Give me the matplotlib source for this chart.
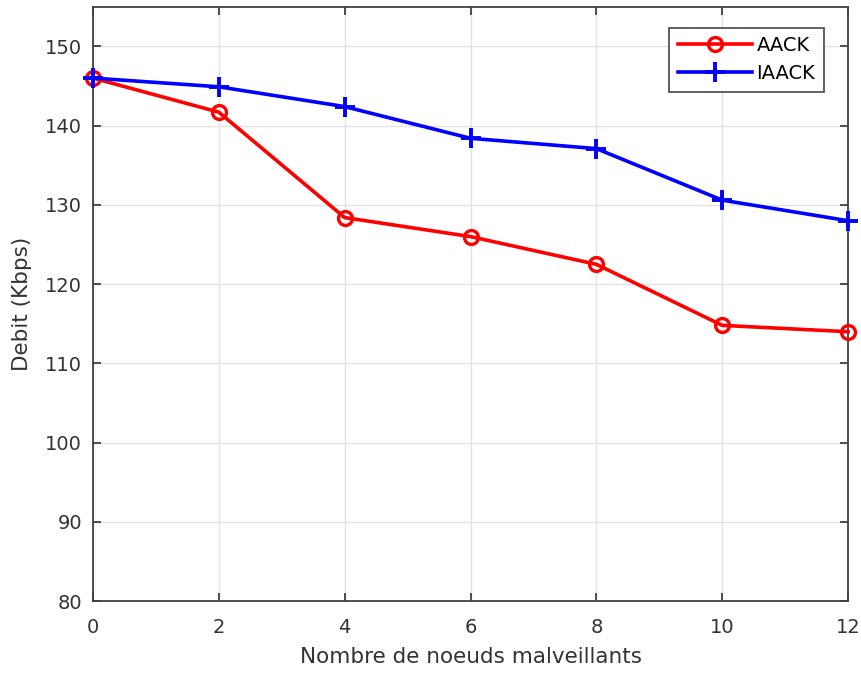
import matplotlib
matplotlib.use("Agg")
import matplotlib.pyplot as plt

plt.rcParams["font.family"] = ["DejaVu Sans"]

nodes = [0, 2, 4, 6, 8, 10, 12]
aack = [146.0, 141.7, 128.4, 126.0, 122.5, 114.8, 114.0]
iaack = [146.0, 144.9, 142.4, 138.4, 137.1, 130.6, 128.0]

x_ticks = [0, 2, 4, 6, 8, 10, 12]
y_ticks = [80, 90, 100, 110, 120, 130, 140, 150]

fig = plt.figure(figsize=(8.61, 6.74), dpi=100)
ax = fig.add_axes([0.108, 0.108, 0.877, 0.882])

ax.plot(nodes, aack, color="red", lw=2.6, marker="o", markersize=10,
        markerfacecolor="none", markeredgewidth=2.4, label="AACK", clip_on=False, zorder=3)
ax.plot(nodes, iaack, color="blue", lw=2.6, marker="+", markersize=15,
        markeredgewidth=2.8, label="IAACK", clip_on=False, zorder=4)

ax.set_xlim(0, 12)
ax.set_ylim(80, 155)
ax.set_xticks(x_ticks)
ax.set_yticks(y_ticks)
ax.grid(True, color="#e3e3e3", lw=1)
ax.set_axisbelow(True)

axis_col = "#404040"
for s in ax.spines.values():
    s.set_color(axis_col)
    s.set_linewidth(1.3)
ax.tick_params(direction="in", top=True, right=True, length=6, width=1.3,
               color=axis_col, labelcolor="#333333", labelsize=14)
ax.tick_params(axis="x", pad=12)
ax.tick_params(axis="y", pad=8)

ax.set_xlabel("Nombre de noeuds malveillants", fontsize=15.5, color="#333333")
ax.set_ylabel("Debit (Kbps)", fontsize=15.5, color="#333333")
ax.xaxis.set_label_coords(0.5, -0.094)
ax.xaxis.label.set_va("center")
ax.yaxis.set_label_coords(-0.094, 0.5)
ax.yaxis.label.set_va("center")

leg = ax.legend(loc="upper right", bbox_to_anchor=(0.968, 0.965), fontsize=14,
                fancybox=False, framealpha=1, edgecolor="#555555",
                handlelength=3.8, borderpad=0.45, labelspacing=0.45,
                handletextpad=0.25, borderaxespad=0)
leg.get_frame().set_linewidth(1.3)

fig.savefig("out.png", dpi=100)
